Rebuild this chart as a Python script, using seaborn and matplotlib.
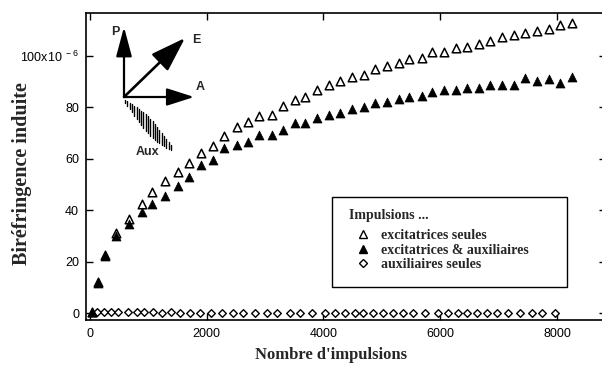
import numpy as np
import pandas as pd
import matplotlib
matplotlib.use("Agg")
import matplotlib.pyplot as plt
from matplotlib.lines import Line2D
from matplotlib.patches import Rectangle
import seaborn as sns

# ---------------- data ----------------
pulses = [30, 140, 260, 450, 670, 890, 1070, 1290, 1500, 1700, 1900, 2110, 2300,
          2510, 2700, 2900, 3110, 3300, 3510, 3680, 3890, 4100, 4280, 4480, 4690,
          4880, 5080, 5290, 5470, 5680, 5860, 6060, 6270, 6460, 6670, 6850, 7060,
          7270, 7460, 7660, 7860, 8050, 8260]
excit_seules = [0.5, 12, 22.5, 31, 36.6, 42.4, 47.2, 51.4, 55, 58.4, 62.2, 65, 68.9,
                72.5, 74.3, 76.8, 77, 80.5, 82.9, 84.2, 86.8, 88.7, 90.4, 91.7, 92.5,
                94.8, 96.2, 97.1, 98.7, 99.1, 101.7, 101.4, 103, 103.4, 104.7, 106,
                107.5, 108.3, 109.1, 109.6, 110.3, 111.9, 112.7]
excit_aux = [0.5, 11.8, 22.2, 30, 34.6, 39.3, 42.4, 45.5, 49.4, 53, 57.6, 59.5, 64.3,
             65.2, 66.4, 69.3, 69.3, 71.2, 73.9, 74, 75.8, 77, 77.7, 79.4, 80,
             81.6, 82.2, 83.2, 84, 84.5, 85.9, 86.8, 86.8, 87.5, 87.5, 88.8, 88.8,
             88.8, 91.3, 90.3, 91, 89.4, 91.7]
aux_pulses = [120, 240, 360, 480, 650, 805, 925, 1080, 1235, 1390, 1540, 1710, 1885,
              2070, 2260, 2450, 2620, 2830, 3030, 3200, 3430, 3600, 3805, 4030, 4200,
              4370, 4540, 4680, 4850, 5020, 5190, 5360, 5530, 5740, 5960, 6130, 6300,
              6460, 6630, 6800, 6970, 7160, 7370, 7570, 7740, 7970]
aux_seules = [0.3, 0.4, 0.3, 0.5, 0.3, 0.2, 0.3, 0.2, 0.1, 0.2, 0.1, 0.0, 0.1,
              0.0, 0.1, 0.0, 0.1, 0.0, 0.0, 0.1, 0.0, 0.0, -0.1, 0.0, 0.0,
              0.0, 0.0, -0.1, 0.0, 0.0, 0.0, -0.1, 0.0, 0.0, 0.0, 0.0, 0.0,
              0.0, 0.0, 0.0, 0.0, 0.0, 0.0, 0.0, 0.0, 0.0]

x_ticks = [0, 2000, 4000, 6000, 8000]
y_ticks = [0, 20, 40, 60, 80, 100]
y_ticklabels = ["0", "20", "40", "60", "80", "100x10$^{\\ -6}$"]

labels = ["excitatrices seules", "excitatrices & auxiliaires", "auxiliaires seules"]
legend_title = "Impulsions ..."
x_label = "Nombre d'impulsions"
y_label = "Biréfringence induite"

# ---------------- style ----------------
sns.set_theme(style="ticks")
plt.rcParams["font.family"] = ["Liberation Sans", "DejaVu Sans"]
plt.rcParams["mathtext.default"] = "regular"

W, H = 602, 369
fig = plt.figure(figsize=(W / 100, H / 100), dpi=100)

def fx(px):
    return px / W

def fy(py):
    return 1 - py / H

ax_l, ax_r, ax_t, ax_b = 86, 606, 13, 320
ax = fig.add_axes([fx(ax_l), fy(ax_b), (ax_r - ax_l) / W, (ax_b - ax_t) / H])

df1 = pd.DataFrame({"x": pulses, "y": excit_seules})
df2 = pd.DataFrame({"x": pulses, "y": excit_aux})
df3 = pd.DataFrame({"x": aux_pulses, "y": aux_seules})

sns.scatterplot(data=df3, x="x", y="y", marker="D", s=15, facecolor="white",
                edgecolor="black", linewidth=1.0, ax=ax, zorder=3)
sns.scatterplot(data=df1, x="x", y="y", marker="^", s=38, facecolor="white",
                edgecolor="black", linewidth=1.1, ax=ax, zorder=4)
sns.scatterplot(data=df2, x="x", y="y", marker="^", s=42, color="black",
                edgecolor="black", linewidth=0.5, ax=ax, zorder=5)

ax.set_xlim(-68, 8839)
ax.set_ylim(-2.72, 116.7)
ax.set_xticks(x_ticks)
ax.set_xticklabels([str(v) for v in x_ticks])
ax.set_yticks(y_ticks)
ax.set_yticklabels(y_ticklabels)
ax.tick_params(axis="both", direction="in", length=5, width=1.0, colors="black",
               labelsize=9, top=True, right=True, bottom=True, left=True)
ax.tick_params(axis="x", pad=6)
ax.tick_params(axis="y", pad=5)
for sp in ax.spines.values():
    sp.set_linewidth(1.2)
    sp.set_color("black")
ax.set_xlabel("")
ax.set_ylabel("")

fig.text(fx(331), fy(355), x_label, ha="center", va="center",
         family="Liberation Serif", weight="bold", fontsize=12)
fig.text(fx(22), fy(174), y_label, ha="center", va="center", rotation=90,
         family="Liberation Serif", weight="bold", fontsize=14.5)

# ---------------- legend ----------------
fig.patches.append(Rectangle((fx(332), fy(287)), (567 - 332) / W, (287 - 197) / H,
                             transform=fig.transFigure, fill=False,
                             edgecolor="black", linewidth=1.0))
handles = [
    Line2D([], [], ls="", marker="^", ms=6, mfc="white", mec="black", mew=1.0),
    Line2D([], [], ls="", marker="^", ms=6.2, mfc="black", mec="black"),
    Line2D([], [], ls="", marker="D", ms=4, mfc="white", mec="black", mew=1.0),
]
leg = ax.legend(handles, labels, title=legend_title, loc="upper left",
                bbox_to_anchor=(fx(342), fy(202)), bbox_transform=fig.transFigure,
                frameon=False, borderpad=0, handlelength=2.0, handletextpad=0.3,
                labelspacing=0.12, alignment="left",
                prop={"family": "Liberation Serif", "weight": "bold", "size": 10},
                title_fontproperties={"family": "Liberation Serif", "weight": "bold",
                                      "size": 10})
leg._legend_box.sep = 5

# ---------------- inset polarisation diagram ----------------
ox, oy = 124, 97
for tip, hl, hw, lw in [((124, 27), 1.5, 0.4, 1.6), ((194, 97), 1.4, 0.45, 1.6),
                        ((185, 38), 1.8, 0.6, 1.9)]:
    ax.annotate("", xy=(fx(tip[0]), fy(tip[1])), xytext=(fx(ox), fy(oy)),
                xycoords="figure fraction", textcoords="figure fraction",
                arrowprops=dict(arrowstyle=f"-|>,head_length={hl},head_width={hw}",
                                color="black", lw=lw, shrinkA=0, shrinkB=0))
lab_kw = dict(ha="center", va="center", fontsize=9, weight="bold")
fig.text(fx(115), fy(32), "P", **lab_kw)
fig.text(fx(196), fy(40), "E", **lab_kw)
fig.text(fx(200), fy(87), "A", **lab_kw)
fig.text(fx(148), fy(152), "Aux", **lab_kw)

# hatched "Aux" beam
for xp in np.arange(125, 174, 2.3):
    t = (xp - 123) / 50.0
    diag = 98 + (xp - 123) * 0.98
    top = diag - 6 * np.sin(np.pi * t) ** 1.5
    bot = diag + 2 + 9 * np.sin(np.pi * t * 0.9) ** 1.2
    fig.lines.append(Line2D([fx(xp), fx(xp)], [fy(top), fy(bot)],
                            transform=fig.transFigure, color="black", lw=1.0))

fig.savefig("out.png", dpi=100)
